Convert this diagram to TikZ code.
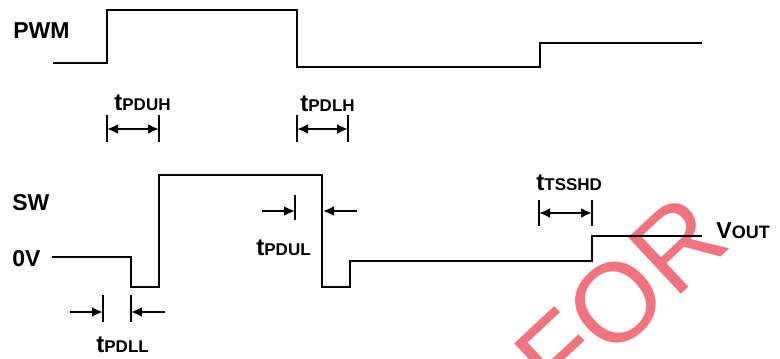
\documentclass[tikz,border=0pt]{standalone}
\usepackage{fontspec}
\setmainfont{Liberation Sans}
\usepackage{xcolor}
\usepackage{tikz}
\usetikzlibrary{arrows.meta}

\definecolor{wmred}{RGB}{239,116,128}
\newcommand{\tdly}[1]{t{\fontsize{8.5}{9}\selectfont #1}}

\tikzset{
  wave/.style={line width=1.3pt, line join=miter},
  dimbar/.style={line width=1.1pt},
  dimarr/.style={line width=1.1pt, -{Latex[length=5.5pt,width=5pt]}},
  dimboth/.style={line width=1.1pt, {Latex[length=5.5pt,width=5pt]}-{Latex[length=5.5pt,width=5pt]}},
  siglabel/.style={font=\bfseries\fontsize{11.5}{13}\selectfont, anchor=base west, inner sep=0pt},
  tlabel/.style={font=\bfseries\fontsize{12}{13}\selectfont, anchor=base west, inner sep=0pt},
  wmark/.style={font=\fontsize{56}{56}\selectfont, text=wmred, inner sep=0pt}
}

\begin{document}
\begin{tikzpicture}[x=0.5pt,y=-0.5pt]
        \useasboundingbox (0,0) rectangle (780,358);
        % watermark
        \node[wmark, rotate=43] (wm) at (621,298) {FOR};
        % signal names
        \node[siglabel] (pwm) at (13,39) {PWM};
        \node[siglabel] (sw) at (12,210) {SW};
        \node[siglabel] (zero) at (12,266) {0V};
        \node[siglabel] (vout) at (716,238) {V{\fontsize{9}{9}\selectfont OUT}};
        % waveforms
        \draw[wave] (53,63) -- (107,63) -- (107,10) -- (297,10) -- (297,67)
                -- (540,67) -- (540,43) -- (702,43);
        \draw[wave] (52,257) -- (131,257) -- (131,287) -- (159,287) -- (159,175)
                -- (322,175) -- (322,287) -- (350,287) -- (350,261) -- (592,261)
                -- (592,236) -- (702,236);
        % tPDUH
        \coordinate (duhA) at (107,129);
        \coordinate (duhB) at (159,129);
        \draw[dimbar] (107,115) -- (107,142);
        \draw[dimbar] (159,115) -- (159,142);
        \draw[dimboth] (duhA) -- (duhB);
        \node[tlabel] (tpduh) at (114,111) {\tdly{PDUH}};
        % tPDLH
        \coordinate (dlhA) at (297,129);
        \coordinate (dlhB) at (348,129);
        \draw[dimbar] (297,115) -- (297,142);
        \draw[dimbar] (348,115) -- (348,142);
        \draw[dimboth] (dlhA) -- (dlhB);
        \node[tlabel] (tpdlh) at (300,112) {\tdly{PDLH}};
        % tPDLL
        \coordinate (dllS) at (70,312);
        \coordinate (dllA) at (103,312);
        \coordinate (dllB) at (131,312);
        \coordinate (dllE) at (165,312);
        \draw[dimbar] (103,295) -- (103,322);
        \draw[dimbar] (131,295) -- (131,322);
        \draw[dimarr] (dllS) -- (dllA);
        \draw[dimarr] (dllE) -- (dllB);
        \node[tlabel] (tpdll) at (96,352) {\tdly{PDLL}};
        % tPDUL
        \coordinate (dulS) at (262,211);
        \coordinate (dulA) at (295,211);
        \coordinate (dulB) at (323,211);
        \coordinate (dulE) at (357,211);
        \draw[dimbar] (295,195) -- (295,220);
        \draw[dimarr] (dulS) -- (dulA);
        \draw[dimarr] (dulE) -- (dulB);
        \node[tlabel] (tpdul) at (256,255) {\tdly{PDUL}};
        % tTSSHD
        \coordinate (sshA) at (539,213);
        \coordinate (sshB) at (592,213);
        \draw[dimbar] (539,200) -- (539,226);
        \draw[dimbar] (592,200) -- (592,226);
        \draw[dimboth] (sshA) -- (sshB);
        \node[tlabel] (ttsshd) at (536,190) {\tdly{TSSHD}};
    \end{tikzpicture}
\end{document}
